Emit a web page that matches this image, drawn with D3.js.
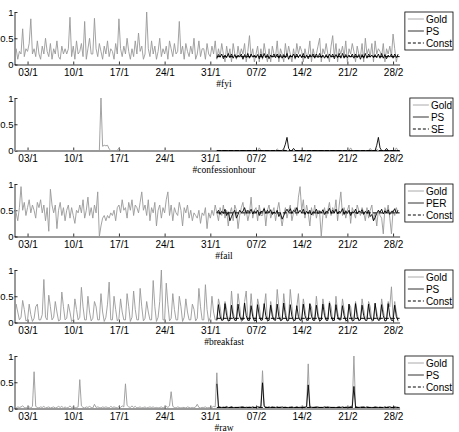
<!DOCTYPE html>
<html>
<head>
<meta charset="utf-8">
<script src="https://cdn.jsdelivr.net/npm/d3@7"></script>
<style>
  body { margin: 0; background: #fff; }
  .axis text { font-family: "Liberation Sans", Arial, sans-serif; font-size: 10px; fill: #000; }
  .axis path, .axis line { stroke: #000; stroke-width: 0.8px; }
  .yaxis text { font-size: 9.5px; }
</style>
</head>
<body>
<div id="chart"></div>
<script>
// samples are every 6 hours; gold runs 1 Jan - 28 Feb, models run 1 Feb - 28 Feb
var tickLabels = ["03/1", "10/1", "17/1", "24/1", "31/1", "07/2", "14/2", "21/2", "28/2"];
var tickDates = [new Date(2011, 0, 3), new Date(2011, 0, 10), new Date(2011, 0, 17), new Date(2011, 0, 24),
  new Date(2011, 0, 31), new Date(2011, 1, 7), new Date(2011, 1, 14), new Date(2011, 1, 21), new Date(2011, 1, 28)];
var yTicks = [0, 0.5, 1];

var titles = ["#fyi", "#confessionhour", "#fail", "#breakfast", "#raw"];
var fyiNames = ["Gold", "PS", "Const"];
var confNames = ["Gold", "PS", "SE"];
var failNames = ["Gold", "PER", "Const"];
var breakfastNames = ["Gold", "PS", "Const"];
var rawNames = ["Gold", "PS", "Const"];

var fyiGold = [
  .15,.3,.1,.25, .2,.68,.15,.3, .25,.4,.87,.2, .3,.15,.45,.2, .1,.35,.2,.5, .25,.15,.4,.1, .3,.2,.45,.15,
  .1,.35,.2,.3, .2,.3,.9,.15, .35,.1,.45,.2, .25,.4,.15,.82, .1,.3,.5,.2, .2,.88,.3,.15, .4,.25,.1,.35,
  .2,.45,.15,.3, .25,.1,.4,.2, .87,.3,.15,.35, .2,.5,.25,.1, .3,.15,.45,.2, .6,.25,.35,.1, .2,1.0,.3,.15,
  .45,.2,.35,.1, .25,.5,.15,.3, .2,.35,.1,.45, .3,.15,.4,.2, .25,.82,.2,.35, .1,.4,.25,.15, .35,.2,.5,.1,
  .2,.45,.15,.3, .3,.1,.4,.2, .15,.35,.2,.45, .1,.3,.15,.4, .2,.05,.35,.15, .3,.05,.4,.2, .1,.35,.15,.3,
  .2,.4,.05,.25, .55,.15,.3,.05, .2,.35,.05,.3, .1,.4,.2,.05, .3,.05,.35,.2, .15,.45,.05,.3, .2,.05,.4,.15,
  .35,.2,.05,.3, .1,.4,.2,.35, .25,.05,.3,.15, .2,.45,.05,.3, .15,.2,.35,.5, .05,.3,.2,.4, .2,.05,.35,.55,
  .15,.4,.05,.3, .2,.35,.15,.45, .05,.3,.2,.4, .25,.05,.35,.2, .15,.4,.05,.5, .2,.3,.15,.4, .05,.45,.2,.3,
  .25,.15,.4,.05, .3,.2,.35,.15, .58,.3,.05,.2
];
var fyiPs = [
  .12,.19,.14,.2, .11,.18,.13,.21, .13,.2,.12,.19, .12,.18,.14,.2, .1,.19,.13,.21, .12,.2,.14,.18, .13,.19,.11,.2,
  .12,.21,.13,.19, .11,.18,.14,.2, .13,.2,.12,.19, .12,.19,.13,.21, .1,.18,.14,.2, .12,.2,.13,.19, .13,.21,.12,.18,
  .11,.19,.14,.2, .12,.2,.13,.21, .13,.18,.12,.19, .12,.2,.14,.2, .11,.19,.13,.21, .12,.21,.12,.19, .13,.18,.14,.2,
  .12,.2,.13,.19, .1,.19,.12,.21, .12,.2,.14,.18, .13,.19,.13,.2, .12,.21,.12,.19, .11,.18,.14,.2, .12,.2,.13,.19
];
var fyiConst = 0.15;

var confGold = [
  0,0,0,0, 0,0,0,0, 0,0,0,0, 0,0,0,0, 0,0,0,0, 0,0,0,0, 0,0,0,0,
  0,0,0,0, 0,0,0,0, 0,0,0,0, 0,0,0,0, 0,0,0,0, 0,0,0,0, 0,1.0,.08,.1,
  .09,.1,.03,0, 0,0,0,0, .05,0,0,0, 0,0,0,0, 0,0,0,0, 0,0,0,0, 0,0,0,0,
  0,0,0,0, 0,0,0,0, 0,0,0,0, 0,0,0,0, 0,0,0,0, 0,0,0,0, 0,0,0,0,
  0,0,0,0, 0,0,0,0, 0,0,0,0, 0,0,0,0, 0,0,0,0, 0,0,0,0, 0,0,0,0,
  0,0,0,0, 0,0,0,0, 0,0,.05,0, 0,0,0,0, 0,0,0,0, 0,.03,0,0, 0,.02,0,0,
  0,0,0,0, 0,0,0,0, 0,0,0,0, 0,0,0,0, 0,0,0,0, 0,0,0,0, 0,0,0,0,
  0,0,0,0, 0,0,0,0, 0,0,.05,0, 0,0,0,0, 0,0,0,0, 0,0,.04,0, 0,0,.03,0,
  0,0,0,0, 0,0,0,0, 0,0,.05,0
];
var confPs = [
  0,0,0,0, 0,0,0,0, 0,0,0,0, 0,0,0,0, 0,0,0,0, 0,0,0,0, 0,0,0,0,
  0,0,0,0, 0,0,0,0, 0,0,0,0, 0,.03,.12,.25, .04,0,0,.04, 0,0,0,0, 0,0,0,0,
  0,0,0,0, 0,0,0,0, 0,0,0,0, 0,0,0,0, 0,0,0,0, 0,0,0,0, 0,0,0,0,
  0,0,0,0, 0,0,0,0, 0,0,0,0, 0,0,.1,.25, .05,0,0,0, .04,0,0,0, 0,0,0,0
];
var confConst = 0;

var failGold = [
  .6,.45,.3,.55, .95,.5,.65,.4, .55,.7,.45,.6, .5,.35,.65,.55, .7,.45,.6,.3, .55,.1,.9,.6, .45,.6,.15,.5,
  .65,.4,.55,.3, .5,.6,.35,.55, .4,.25,.5,.45, .6,.45,.7,.35, .5,.75,.4,.55, .35,.6,.45,.85, 0,.2,.35,.4,
  .3,.4,.35,.45, .4,.5,.3,.55, .6,.45,.7,.5, .55,.35,.65,.5, .7,.4,.6,.55, .45,.65,.85,.5, .6,.4,.7,.3,
  .55,.45,.65,.2, .5,.6,.35,.55, .45,.7,.85,.4, .6,.3,.55,.45, .4,.65,.5,.2, .55,.45,.6,.35, .5,.3,.45,.4,
  .35,.5,.25,.45, .4,.55,.15,.45, .35,.5,.4,.6, .45,.3,.55,.4, .6,.35,.5,.2, .45,.55,.3,.6, .5,.15,.4,.55,
  .65,.4,.5,.3, .45,.75,.35,.5, .55,.3,.6,.4, .4,.55,.2,.5, .6,.35,.45,.55, .3,.5,.65,.4, .2,.4,.55,.35,
  .5,.6,.3,.45, .55,.4,.75,.95, .5,.7,.35,.6, .45,.2,.55,.4, .6,.35,.5,.45, 0,.4,.55,.35, .5,.65,.4,.55,
  .45,.7,.3,.6, .85,.4,.55,.35, .5,.6,.25,.55, .45,.35,.6,.5, .4,.55,.45,.3, .55,.35,.5,.6, .3,.45,.2,.5,
  .4,.35,.05,.55, .45,.6,.35,.05, .5,.4,.55,.45
];
var failPer = [
  .45,.5,.42,.48, .44,.52,.4,.47, .3,.38,.45,.5, .35,.42,.5,.46, .48,.55,.44,.5, .46,.52,.43,.49, .45,.5,.4,.48,
  .47,.53,.44,.5, .45,.51,.42,.47, .44,.5,.38,.45, .33,.4,.47,.52, .46,.53,.44,.5, .47,.55,.45,.5, .45,.52,.42,.48,
  .44,.5,.41,.47, .46,.52,.43,.49, .45,.51,.42,.48, .47,.54,.44,.5, .45,.52,.43,.48, .46,.53,.42,.49, .44,.5,.4,.47,
  .45,.52,.43,.49, .46,.51,.42,.48, .44,.5,.38,.42, .3,.36,.44,.5, .46,.52,.43,.49, .45,.51,.42,.48, .47,.53,.44,.5
];
var failConst = 0.45;

var breakfastGold = [
  .05,.35,.2,.05, .1,.42,.25,.03, .05,.35,.15,.02, .08,.3,.35,.05, .05,.15,.82,.1, .05,.52,.3,.05, .1,.4,.2,.03,
  .05,.58,.3,.05, .08,.35,.2,.02, .05,.45,.25,.05, .1,.67,.3,.05, .05,.5,.2,.03, .08,.4,.3,.05, .05,.55,.2,.02,
  .1,.35,.77,.05, .05,.5,.25,.03, .08,.45,.2,.05, .05,.55,.3,.02, .1,.6,.25,.05, .05,.65,.3,.03, .08,.4,.2,.05,
  .05,.8,.3,.02, .1,.4,1.0,.05, .05,.75,.35,.03, .08,.55,.25,.05, .05,.5,.3,.02, .1,.45,.2,.05, .05,.35,.25,.03,
  .08,.65,.3,.05, .05,.72,.25,.02, .1,.5,.2,.05, .05,.45,.3,.05, .08,.4,.25,.03, .05,.6,.2,.05, .1,.55,.3,.02,
  .05,.4,.6,.05, .08,.55,.2,.03, .05,.45,.3,.05, .1,.3,.55,.02, .05,.4,.2,.05, .08,.63,.3,.03, .05,.55,.25,.05,
  .1,.63,.3,.02, .05,.3,.55,.05, .08,.45,.25,.03, .05,.35,.3,.05, .1,.5,.2,.02, .05,.45,.25,.05, .08,.4,.3,.03,
  .05,.5,.2,.05, .1,.45,.25,.02, .05,.35,.3,.05, .08,.4,.2,.03, .05,.45,.25,.05, .1,.4,.3,.02, .05,.35,.2,.05,
  .08,.45,.25,.03, .05,.4,.3,.68, .1,.4,.2,.02
];
var breakfastPs = [
  .04,.34,.12,.04, .05,.36,.13,.03, .04,.33,.11,.04, .04,.35,.12,.05, .05,.37,.13,.04, .04,.32,.11,.03, .04,.34,.12,.04,
  .05,.36,.13,.04, .04,.33,.12,.05, .04,.35,.11,.04, .05,.37,.13,.03, .04,.34,.12,.04, .04,.32,.11,.04, .05,.35,.13,.05,
  .04,.36,.12,.04, .04,.33,.11,.03, .05,.35,.13,.04, .04,.37,.12,.04, .04,.34,.11,.05, .05,.32,.13,.04, .04,.35,.12,.03,
  .04,.36,.11,.04, .05,.33,.13,.04, .04,.35,.12,.05, .04,.37,.11,.04, .05,.34,.13,.03, .04,.36,.12,.04, .04,.33,.11,.04
];
var breakfastConst = 0.08;

var rawGold = [
  .02,.01,.03,.02, .03,.05,.02,.01, .02,.03,.01,.04, .7,.04,.02,.01, .03,.02,.04,.01, .02,.03,.01,.02, .03,.01,.02,.04,
  .02,.04,.01,.03, .01,.02,.05,.02, .03,.01,.02,.03, .55,.05,.02,.01, .03,.02,.04,.02, .01,.08,.02,.03, .02,.01,.03,.02,
  .03,.02,.01,.04, .02,.03,.02,.01, .04,.02,.05,.03, .47,.06,.03,.02, .05,.02,.04,.01, .02,.03,.01,.02, .03,.01,.02,.03,
  .02,.03,.01,.02, .01,.02,.03,.01, .02,.04,.02,.05, .32,.04,.02,.01, .03,.02,.01,.02, .02,.01,.03,.02, .01,.02,.01,.03,
  .08,.02,.01,.02, .02,.03,.01,.02, .01,.02,.04,.03, .68,.05,.03,.02, .03,.02,.04,.01, .02,.03,.01,.02, .01,.02,.03,.01,
  .02,.01,.03,.02, .03,.02,.01,.02, .02,.04,.03,.05, .72,.06,.03,.02, .04,.02,.01,.03, .02,.01,.02,.03, .01,.02,.03,.01,
  .02,.03,.01,.02, .01,.02,.01,.03, .02,.04,.03,.05, .85,.05,.03,.02, .03,.02,.04,.01, .02,.01,.02,.03, .01,.03,.02,.01,
  .02,.01,.03,.02, .01,.02,.01,.03, .03,.02,.04,.06, 1.0,.05,.03,.02, .03,.04,.02,.01, .02,.03,.01,.02, .01,.02,.03,.02,
  .03,.02,.01,.02, .02,.04,.03,.02, .01,.02,.03,.02
];
var rawPs = [
  .47,.03,.02,.02, .02,.02,.03,.02, .02,.03,.02,.02, .02,.02,.02,.03, .03,.02,.02,.02, .02,.02,.03,.02, .02,.03,.02,.03,
  .49,.04,.02,.02, .02,.02,.03,.02, .02,.03,.02,.02, .03,.02,.02,.02, .02,.02,.03,.02, .02,.03,.02,.02, .02,.02,.02,.03,
  .45,.03,.02,.02, .02,.03,.02,.02, .02,.02,.03,.02, .03,.02,.02,.02, .02,.02,.02,.03, .02,.03,.02,.02, .02,.02,.03,.03,
  .42,.03,.02,.02, .02,.02,.03,.02, .03,.02,.02,.02, .02,.03,.02,.02, .02,.02,.02,.03, .02,.02,.03,.02, .02,.03,.02,.02
];
var rawConst = 0.02;

var panels = [
  { title: titles[0], gold: fyiGold, model: fyiPs, base: fyiConst, names: fyiNames },
  { title: titles[1], gold: confGold, model: confPs, base: confConst, names: confNames },
  { title: titles[2], gold: failGold, model: failPer, base: failConst, names: failNames },
  { title: titles[3], gold: breakfastGold, model: breakfastPs, base: breakfastConst, names: breakfastNames },
  { title: titles[4], gold: rawGold, model: rawPs, base: rawConst, names: rawNames }
];

var width = 459, height = 432;
var goldStart = new Date(2011, 0, 1);
var modelStart = new Date(2011, 1, 1);
var endDate = new Date(2011, 2, 1);

var svg = d3.select("#chart").append("svg")
  .attr("width", width)
  .attr("height", height);

var x = d3.scaleTime().domain([goldStart, endDate]).range([14.5, 399.6]);

function sampleDate(start, i) {
  return d3.timeHour.offset(start, i * 6);
}

panels.forEach(function (p, k) {
  var top = 12 + k * 86;
  var bottom = top + 52.5;
  var y = d3.scaleLinear().domain([0, 1]).range([bottom, top]);
  var g = svg.append("g");

  var goldLine = d3.line()
    .x(function (d, i) { return x(sampleDate(goldStart, i)); })
    .y(function (d) { return y(d); });
  var modelLine = d3.line()
    .x(function (d, i) { return x(sampleDate(modelStart, i)); })
    .y(function (d) { return y(d); });

  g.append("g")
    .attr("class", "axis")
    .attr("transform", "translate(0," + bottom + ")")
    .call(d3.axisBottom(x).tickValues(tickDates)
      .tickFormat(function (d, i) { return tickLabels[i]; })
      .tickSizeInner(-3).tickSizeOuter(0).tickPadding(4));

  g.append("g")
    .attr("class", "axis yaxis")
    .attr("transform", "translate(" + x(goldStart) + ",0)")
    .call(d3.axisLeft(y).tickValues(yTicks).tickFormat(d3.format(""))
      .tickSizeInner(-3).tickSizeOuter(0).tickPadding(1));

  g.append("path")
    .datum(p.gold)
    .attr("d", goldLine)
    .attr("fill", "none")
    .attr("stroke", "#999")
    .attr("stroke-width", 0.9);

  g.append("path")
    .datum(p.model)
    .attr("d", modelLine)
    .attr("fill", "none")
    .attr("stroke", "#000")
    .attr("stroke-width", 0.9);

  g.append("line")
    .attr("x1", x(modelStart)).attr("x2", x(endDate))
    .attr("y1", y(p.base)).attr("y2", y(p.base))
    .attr("stroke", "#000")
    .attr("stroke-width", 1)
    .attr("stroke-dasharray", "4,2");

  g.append("text")
    .attr("x", 224)
    .attr("y", bottom + 22)
    .attr("text-anchor", "middle")
    .style("font-family", "'Liberation Serif', 'Times New Roman', serif")
    .style("font-size", "9.5px")
    .text(p.title);

  // legend
  var leg = g.append("g");
  var styles = [
    { stroke: "#aaa", dash: null },
    { stroke: "#333", dash: null },
    { stroke: "#000", dash: "3,2" }
  ];
  var texts = leg.selectAll("text")
    .data(p.names)
    .enter()
    .append("text")
    .attr("y", function (d, i) { return top + 7 + i * 12; })
    .attr("dy", "0.35em")
    .style("font-family", "'Liberation Sans', Arial, sans-serif")
    .style("font-size", "10px")
    .text(function (d) { return d; });
  var maxW = 0;
  texts.each(function () { maxW = Math.max(maxW, this.getComputedTextLength()); });
  var right = 453;
  var left = right - maxW - 22;
  texts.attr("x", left + 21);
  leg.selectAll("line")
    .data(p.names)
    .enter()
    .append("line")
    .attr("x1", left + 3)
    .attr("x2", left + 19)
    .attr("y1", function (d, i) { return top + 7 + i * 12; })
    .attr("y2", function (d, i) { return top + 7 + i * 12; })
    .attr("stroke", function (d, i) { return styles[i].stroke; })
    .attr("stroke-width", 1)
    .attr("stroke-dasharray", function (d, i) { return styles[i].dash; });
  leg.insert("rect", ":first-child")
    .attr("x", left)
    .attr("y", top)
    .attr("width", right - left)
    .attr("height", 38)
    .attr("fill", "#fff")
    .attr("stroke", "#000")
    .attr("stroke-width", 0.8);
});
</script>
</body>
</html>
